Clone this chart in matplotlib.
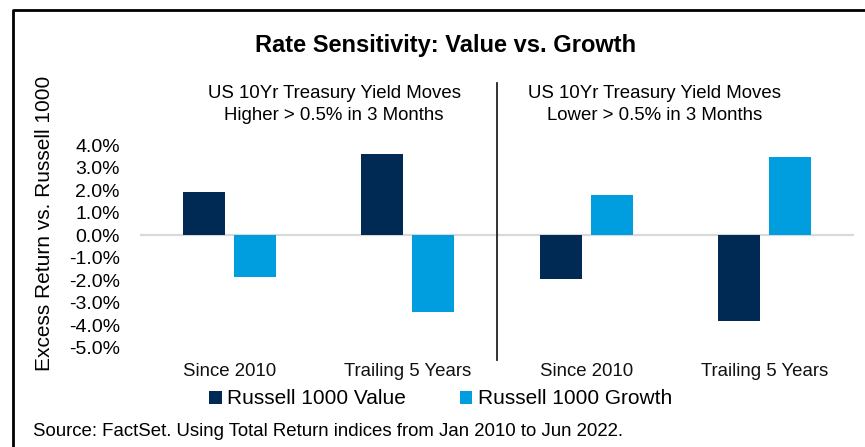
import matplotlib
matplotlib.use("Agg")
import matplotlib.pyplot as plt
import matplotlib.transforms as mtransforms
from matplotlib.patches import Patch
from matplotlib.lines import Line2D
import numpy as np

plt.rcParams['font.family'] = ['Liberation Sans', 'DejaVu Sans']

categories = ["Since 2010", "Trailing 5 Years", "Since 2010", "Trailing 5 Years"]
value_returns = [1.90, 3.58, -1.92, -3.79]
growth_returns = [-1.84, -3.39, 1.80, 3.48]
series_names = ["Russell 1000 Value", "Russell 1000 Growth"]
yticks = [4, 3, 2, 1, 0, -1, -2, -3, -4, -5]
ytick_labels = [f"{t:.1f}%" for t in yticks]
panel_titles = [["US 10Yr Treasury Yield Moves", "Higher > 0.5% in 3 Months"],
                ["US 10Yr Treasury Yield Moves", "Lower > 0.5% in 3 Months"]]
title = "Rate Sensitivity: Value vs. Growth"
ylabel = "Excess Return vs. Russell 1000"
source = "Source: FactSet. Using Total Return indices from Jan 2010 to Jun 2022."

navy = "#002A54"
light = "#009EDE"

W, H = 865, 447
fig = plt.figure(figsize=(W / 100, H / 100), dpi=100)

def fx(px):
    return px / W

def fy(py):
    return 1 - py / H

ax_left, ax_right, ax_top, ax_bottom = 140, 854, 145, 348
ax = fig.add_axes([fx(ax_left), fy(ax_bottom), (ax_right - ax_left) / W, (ax_bottom - ax_top) / H])

x = np.arange(len(categories))
bw = 0.235
off = 0.143
ax.bar(x - off, value_returns, width=bw, color=navy, zorder=3)
ax.bar(x + off, growth_returns, width=bw, color=light, zorder=3)
ax.axhline(0, color="#d9d9d9", lw=1.6, zorder=2)

ax.set_xlim(-0.5, 3.5)
ax.set_ylim(-5, 4)
ax.set_yticks(yticks)
ax.set_yticklabels(ytick_labels, fontsize=14)
ax.tick_params(axis='y', length=0, pad=14.4)
ax.set_xticks([])
for s in ax.spines.values():
    s.set_visible(False)

# category labels
trans = mtransforms.blended_transform_factory(ax.transData, fig.transFigure)
for xi, c in zip(x, categories):
    ax.text(xi, fy(376), c, transform=trans, ha='center', va='baseline', fontsize=13.4, color='#111111')

# divider
fig.add_artist(Line2D([fx(497), fx(497)], [fy(83), fy(360)], color='#222222', lw=1.3))

# panel titles
for cx, lines in zip([334, 654.5], panel_titles):
    fig.text(fx(cx), fy(98), lines[0], ha='center', va='baseline', fontsize=13.4)
    fig.text(fx(cx), fy(120), lines[1], ha='center', va='baseline', fontsize=13.4)

# title
fig.text(fx(445.5), fy(52), title, ha='center', va='baseline', fontsize=17, fontweight='bold')

# y label
fig.text(fx(45), fy(223.5), ylabel, ha='center', va='center', rotation=90, fontsize=15)

# legend
handles = [Patch(facecolor=navy, edgecolor='none'), Patch(facecolor=light, edgecolor='none')]
fig.legend(handles, series_names, loc='center', bbox_to_anchor=(fx(440.5), fy(399)), ncol=2,
           frameon=False, fontsize=15, handlelength=0.6, handleheight=0.6,
           handletextpad=0.25, columnspacing=2.6, borderpad=0, borderaxespad=0)

# source
fig.text(fx(33), fy(436), source, ha='left', va='baseline', fontsize=13.4)

# frame
fig.add_artist(Line2D([fx(13), fx(13), 1.0], [0, fy(10), fy(10)], color='black', lw=2.0))

fig.savefig("out.png", dpi=100)
